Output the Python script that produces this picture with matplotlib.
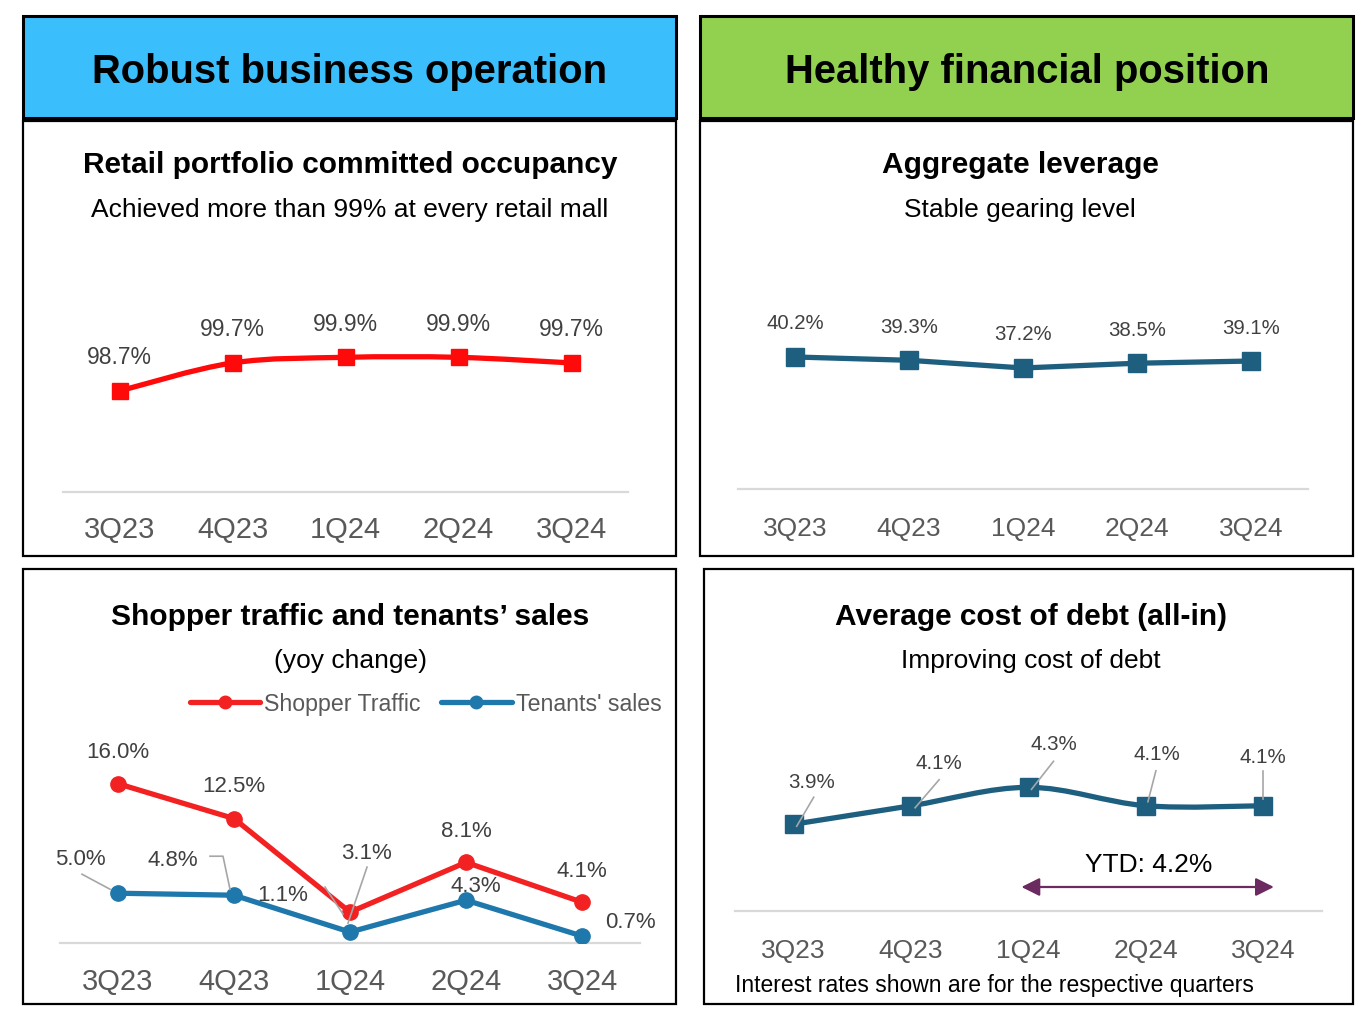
import matplotlib
matplotlib.use("Agg")
import matplotlib.pyplot as plt
from matplotlib.patches import Rectangle
from matplotlib.lines import Line2D
from matplotlib.path import Path
from matplotlib.patches import PathPatch
import numpy as np

plt.rcParams['font.family'] = ['Liberation Sans', 'DejaVu Sans']

# ---------------- data ----------------
quarters = ["3Q23", "4Q23", "1Q24", "2Q24", "3Q24"]
occupancy = [98.7, 99.7, 99.9, 99.9, 99.7]
leverage = [40.2, 39.3, 37.2, 38.5, 39.1]
shopper_traffic = [16.0, 12.5, 3.1, 8.1, 4.1]
tenants_sales = [5.0, 4.8, 1.1, 4.3, 0.7]
cost_of_debt = [3.9, 4.1, 4.3, 4.1, 4.1]
ytd_cost = 4.2

W, H = 1370, 1020
fig = plt.figure(figsize=(W / 100, H / 100), dpi=100)
fig.patch.set_facecolor("white")

RED = "#FF0A0A"
RED2 = "#F22222"
BLUE = "#1F78AB"
TEAL = "#1E5F80"
LBL = "#404040"
TCK = "#595959"
GRID = "#D9D9D9"
DY = 2  # vertical text correction (px)


def fxy(x, y):
    return x / W, 1 - y / H


def box(x0, y0, x1, y1, fc="none", lw=1.6):
    r = Rectangle((x0 / W, 1 - y1 / H), (x1 - x0) / W, (y1 - y0) / H,
                  transform=fig.transFigure, facecolor=fc, edgecolor="black",
                  lw=lw, zorder=0)
    fig.add_artist(r)


def ftext(x, y, s, **kw):
    fx, fy = fxy(x, y + DY)
    fig.text(fx, fy, s, ha="center", va="center", **kw)


def make_ax(x0, x1, ytop, ybase, ylim):
    ax = fig.add_axes([x0 / W, 1 - ybase / H, (x1 - x0) / W, (ybase - ytop) / H])
    ax.set_xlim(-0.5, len(quarters) - 0.5)
    ax.set_ylim(*ylim)
    for s in ["top", "left", "right"]:
        ax.spines[s].set_visible(False)
    ax.spines["bottom"].set_color(GRID)
    ax.spines["bottom"].set_linewidth(1.6)
    ax.set_xticks([])
    ax.set_yticks([])
    ax.patch.set_alpha(0)
    return ax


def ticklabels(ax, dy_px, size):
    for i, q in enumerate(quarters):
        ax.annotate(q, xy=(i, 0), xycoords=("data", "axes fraction"),
                    xytext=(0, -(dy_px + DY) * 0.72), textcoords="offset points",
                    ha="center", va="center", fontsize=size, color=TCK)


def dlabel(ax, i, v, s, dx, dy, size, color=LBL):
    ax.annotate(s, xy=(i, v), xytext=(dx * 0.72, -(dy + DY) * 0.72),
                textcoords="offset points", ha="center", va="center",
                fontsize=size, color=color, zorder=6)


def leader(ax, i, v, pts, color="#A6A6A6", lw=1.2):
    base = ax.transData.transform((i, v))
    disp = np.array([[base[0] + dx, base[1] - dy] for dx, dy in pts])
    f = fig.transFigure.inverted().transform(disp)
    fig.add_artist(Line2D(f[:, 0], f[:, 1], color=color, lw=lw, zorder=7))


def smooth_path(xs, ys):
    P = np.column_stack([xs, ys]).astype(float)
    n = len(P)
    verts = [P[0]]
    codes = [Path.MOVETO]
    for k in range(n - 1):
        p0 = P[k - 1] if k > 0 else P[k]
        p1, p2 = P[k], P[k + 1]
        p3 = P[k + 2] if k + 2 < n else P[k + 1]
        c1 = p1 + (p2 - p0) / 6.0
        c2 = p2 - (p3 - p1) / 6.0
        verts += [c1, c2, p2]
        codes += [Path.CURVE4] * 3
    return Path(verts, codes)


# ---------------- headers ----------------
box(23, 17, 676, 119, fc="#3BBEFC", lw=2.2)
box(700, 17, 1353, 119, fc="#92D050", lw=2.2)
ftext(350, 70, "Robust business operation", fontsize=28.8, fontweight="bold")
ftext(1027, 70, "Healthy financial position", fontsize=28.8, fontweight="bold")

# panel frames
box(23, 122, 676, 557)
box(700, 122, 1353, 557)
box(23, 570, 676, 1005)
box(704, 570, 1353, 1005)

# ---------------- TL: occupancy ----------------
ftext(350, 163, "Retail portfolio committed occupancy", fontsize=21.5, fontweight="bold")
ftext(350, 208, "Achieved more than 99% at every retail mall", fontsize=19)
ax1 = make_ax(63, 628, 250, 493, (95.09, 103.77))
x = np.arange(len(quarters))
ax1.add_patch(PathPatch(smooth_path(x, occupancy), fill=False, edgecolor=RED,
                        lw=3.8, capstyle="round", joinstyle="round", zorder=3))
ax1.plot(x, occupancy, ls="none", marker="s", ms=11.5, color=RED, zorder=4)
for i, v in enumerate(occupancy):
    dlabel(ax1, i, v, f"{v:.1f}%", 0, -36, 16.5)
ticklabels(ax1, 35, 21)

# ---------------- TR: leverage ----------------
ftext(1020, 163, "Aggregate leverage", fontsize=21.5, fontweight="bold")
ftext(1020, 208, "Stable gearing level", fontsize=19)
ax2 = make_ax(738, 1308, 250, 490, (4.2, 69.65))
ax2.plot(x, leverage, color=TEAL, lw=3.8, marker="s", ms=12.5,
         solid_joinstyle="round", zorder=3)
for i, v in enumerate(leverage):
    dlabel(ax2, i, v, f"{v:.1f}%", 0, -36, 14.7)
ticklabels(ax2, 37, 19)

# ---------------- BL: shopper traffic / tenants' sales ----------------
ftext(350, 615, "Shopper traffic and tenants\u2019 sales", fontsize=21.5, fontweight="bold")
ftext(350, 659, "(yoy change)", fontsize=19)
ax3 = make_ax(60, 640, 720, 944, (0, 22.5))
ax3.plot(x, shopper_traffic, color=RED2, lw=3.8, marker="o", ms=11,
         solid_joinstyle="round", zorder=4)
ax3.plot(x, tenants_sales, color=BLUE, lw=3.8, marker="o", ms=11,
         solid_joinstyle="round", zorder=3)
st_off = [(0, -34), (0, -35), (16, -62), (0, -34), (0, -34)]
for i, v in enumerate(shopper_traffic):
    dlabel(ax3, i, v, f"{v:.1f}%", st_off[i][0], st_off[i][1], 16)
ts_off = [(-38, -37), (-61, -38), (-67, -40), (10, -17), (48, -17)]
for i, v in enumerate(tenants_sales):
    dlabel(ax3, i, v, f"{v:.1f}%", ts_off[i][0], ts_off[i][1], 16)
ticklabels(ax3, 36, 21)
# leader lines
leader(ax3, 2, shopper_traffic[2], [(17, -45), (-2, 11)])
leader(ax3, 2, tenants_sales[2], [(-25, -45), (-7, -18)])
leader(ax3, 0, tenants_sales[0], [(-36, -19), (-8, -4)])
leader(ax3, 1, tenants_sales[1], [(-24, -39), (-11, -39), (-4, -6)])
# legend
for (x0, x1, col, lab) in [(190, 260, RED2, "Shopper Traffic"),
                           (441, 512, BLUE, "Tenants' sales")]:
    a, b = fxy(x0, 703)
    c, _ = fxy(x1, 703)
    fig.add_artist(Line2D([a, c], [b, b], color=col, lw=3.8, solid_capstyle="round"))
    fig.add_artist(Line2D([(a + c) / 2], [b], color=col, marker="o", ms=9, ls="none"))
    tx, ty = fxy(x1 + 4, 703 + DY)
    fig.text(tx, ty, lab, ha="left", va="center", fontsize=16.7, color=TCK)

# ---------------- BR: cost of debt ----------------
ftext(1031, 615, "Average cost of debt (all-in)", fontsize=21.5, fontweight="bold")
ftext(1031, 659, "Improving cost of debt", fontsize=19)
ax4 = make_ax(735, 1322, 720, 912, (2.96, 5.04))
ax4.add_patch(PathPatch(smooth_path(x, cost_of_debt), fill=False, edgecolor=TEAL,
                        lw=3.8, capstyle="round", joinstyle="round", zorder=3))
ax4.plot(x, cost_of_debt, ls="none", marker="s", ms=13, color=TEAL, zorder=4)
cd_off = [(18, -45), (28, -45), (25, -46), (11, -54), (0, -51)]
for i, v in enumerate(cost_of_debt):
    dlabel(ax4, i, v, f"{v:.1f}%", cd_off[i][0], cd_off[i][1], 14.8)
cd_lead = [[(20, -27), (3, 2)], [(28, -26), (4, 2)], [(25, -26), (3, 2)],
           [(10, -35), (2, -4)], [(0, -35), (0, -7)]]
for i, v in enumerate(cost_of_debt):
    leader(ax4, i, v, cd_lead[i])
ticklabels(ax4, 37, 19)
# YTD arrow
y_arrow = 0.125
ax4.annotate("", xy=(quarters.index("3Q24") + 0.09, y_arrow),
             xytext=(quarters.index("1Q24") - 0.06, y_arrow),
             xycoords=("data", "axes fraction"), textcoords=("data", "axes fraction"),
             arrowprops=dict(arrowstyle="<|-|>,head_length=1.1,head_width=0.55",
                             color="#6B2A60", lw=1.6, shrinkA=0, shrinkB=0))
ax4.annotate(f"YTD: {ytd_cost:.1f}%", xy=(3.02, 0.255), xycoords=("data", "axes fraction"),
             xytext=(0, -DY * 0.72), textcoords="offset points",
             ha="center", va="center", fontsize=19, color="black")
ftext(994, 984, "Interest rates shown are for the respective quarters", fontsize=16.5)

fig.savefig("out.png", dpi=100, facecolor="white")
